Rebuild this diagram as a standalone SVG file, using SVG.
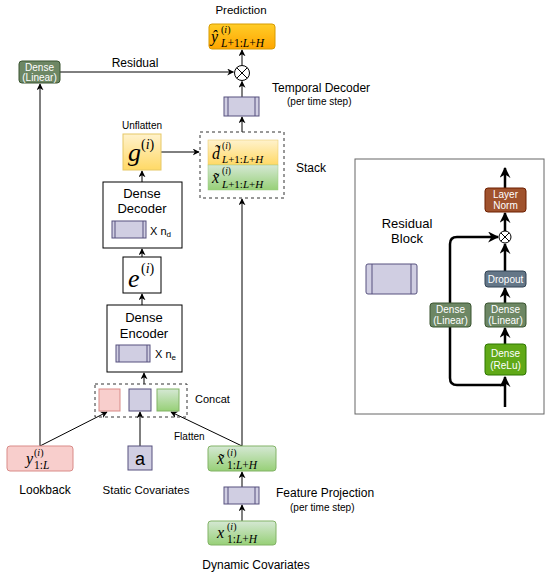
<svg xmlns="http://www.w3.org/2000/svg" width="550" height="577" viewBox="0 0 550 577">
<defs>
<linearGradient id="gOrange" x1="0" y1="0" x2="0" y2="1"><stop offset="0" stop-color="#ffcd28"/><stop offset="1" stop-color="#ffa500"/></linearGradient>
<linearGradient id="gYellow" x1="0" y1="0" x2="0" y2="1"><stop offset="0" stop-color="#fff2cc"/><stop offset="1" stop-color="#ffd966"/></linearGradient>
<linearGradient id="gGreen" x1="0" y1="0" x2="0" y2="1"><stop offset="0" stop-color="#d5e8d4"/><stop offset="1" stop-color="#97d077"/></linearGradient>
<marker id="arr" viewBox="0 0 10 10" refX="9" refY="5" markerWidth="7" markerHeight="7" markerUnits="userSpaceOnUse" orient="auto"><path d="M0,0 L10,5 L0,10 L3,5 Z" fill="#000"/></marker>
<marker id="arrB" viewBox="0 0 10 10" refX="9" refY="5" markerWidth="11" markerHeight="11" markerUnits="userSpaceOnUse" orient="auto"><path d="M0,0 L10,5 L0,10 L3,5 Z" fill="#000"/></marker>
</defs>
<style>
.lbl{font-family:"Liberation Sans",Arial,sans-serif;fill:#000}
.wt{font-family:"Liberation Sans",Arial,sans-serif;fill:#fff;font-size:10px;text-anchor:middle}
.m{font-family:"Liberation Serif","DejaVu Serif",serif;fill:#000}
.it{font-style:italic}
.blk{fill:#d0cee2;stroke:#56517e;stroke-width:1}
.ln{stroke:#56517e;stroke-width:1}
.box{fill:#fff;stroke:#000;stroke-width:1}
.c{stroke:#000;stroke-width:1;fill:none}
.cb{stroke:#000;stroke-width:2.5;fill:none}
.dash{fill:none;stroke:#333;stroke-width:1;stroke-dasharray:3,3}
.green{fill:url(#gGreen);stroke:#82b366}
.pink{fill:#f8cecc;stroke:#d98b88}
</style>
<rect width="550" height="577" fill="#fff"/>

<g id="connectors">
<path class="c" d="M242,65 L242,50" marker-end="url(#arr)"/>
<path class="c" d="M60,72 L233.5,72" marker-end="url(#arr)"/>
<path class="c" d="M242,97 L242,81.5" marker-end="url(#arr)"/>
<path class="c" d="M242,132 L242,117" marker-end="url(#arr)"/>
<path class="c" d="M161,152 L199,152" marker-end="url(#arr)"/>
<path class="c" d="M142,182 L142,171" marker-end="url(#arr)"/>
<path class="c" d="M142,257 L142,249" marker-end="url(#arr)"/>
<path class="c" d="M142,305 L142,294" marker-end="url(#arr)"/>
<path class="c" d="M144,384 L144,373" marker-end="url(#arr)"/>
<path class="c" d="M40,446 L40,84" marker-end="url(#arr)"/>
<path class="c" d="M40,446 L107,412" marker-end="url(#arr)"/>
<path class="c" d="M140,446 L140,412" marker-end="url(#arr)"/>
<path class="c" d="M242,446 L171,412" marker-end="url(#arr)"/>
<path class="c" d="M242,446 L242,199" marker-end="url(#arr)"/>
<path class="c" d="M242,487 L242,472" marker-end="url(#arr)"/>
<path class="c" d="M242,521 L242,505" marker-end="url(#arr)"/>
<path class="cb" d="M505,407 L505,377" marker-end="url(#arrB)"/>
<path class="cb" d="M505,344 L505,328" marker-end="url(#arrB)"/>
<path class="cb" d="M505,303 L505,288" marker-end="url(#arrB)"/>
<path class="cb" d="M505,271 L505,244" marker-end="url(#arrB)"/>
<path class="cb" d="M505,231 L505,213" marker-end="url(#arrB)"/>
<path class="cb" d="M505,188 L505,168" marker-end="url(#arrB)"/>
<path class="cb" d="M505,385 L457,385 Q450,385 450,378 L450,244 Q450,237 457,237 L498,237" marker-end="url(#arrB)"/>
</g>

<g id="prediction">
<text class="lbl" x="241" y="14" font-size="11.5" text-anchor="middle">Prediction</text>
<rect x="209" y="24" width="66" height="25" rx="3" fill="url(#gOrange)" stroke="#d79b00"/>
<text class="m it" x="211" y="42" font-size="16">ŷ</text>
<text class="m" x="221" y="33" font-size="10">(<tspan class="it">i</tspan>)</text>
<text class="m it" x="221" y="47" font-size="11.5">L<tspan font-style="normal">+1:</tspan>L<tspan font-style="normal">+</tspan>H</text>
</g>

<g id="residual-dense">
<rect x="19" y="61" width="41" height="22" rx="3" fill="#6d8764" stroke="#3a5431"/>
<text class="wt" x="39.5" y="70.5">Dense</text>
<text class="wt" x="39.5" y="81">(Linear)</text>
<text class="lbl" x="135" y="67" font-size="12" text-anchor="middle">Residual</text>
</g>

<g id="combine">
<circle cx="242" cy="73" r="7.5" fill="#fff" stroke="#000"/>
<path d="M236.7,67.7 L247.3,78.3 M247.3,67.7 L236.7,78.3" stroke="#000" stroke-width="1"/>
</g>

<g id="temporal-decoder">
<rect class="blk" x="224" y="97" width="35" height="19"/>
<path class="ln" d="M228,97 V116 M255,97 V116"/>
<text class="lbl" x="272" y="92" font-size="12">Temporal Decoder</text>
<text class="lbl" x="287" y="105" font-size="10">(per time step)</text>
</g>

<g id="stack">
<rect class="dash" x="200" y="132" width="84" height="66"/>
<rect x="208" y="140" width="70" height="25" fill="url(#gYellow)" stroke="#e6c866" stroke-width="0.5"/>
<rect x="208" y="165" width="70" height="25" fill="url(#gGreen)" stroke="#9ccc82" stroke-width="0.5"/>
<text class="m it" x="212" y="159" font-size="16">d̃</text>
<text class="m" x="222" y="149" font-size="9.5">(<tspan class="it">i</tspan>)</text>
<text class="m it" x="222" y="163" font-size="11">L<tspan font-style="normal">+1:</tspan>L<tspan font-style="normal">+</tspan>H</text>
<text class="m it" x="212" y="183" font-size="16">x̃</text>
<text class="m" x="222" y="174" font-size="9.5">(<tspan class="it">i</tspan>)</text>
<text class="m it" x="222" y="188" font-size="11">L<tspan font-style="normal">+1:</tspan>L<tspan font-style="normal">+</tspan>H</text>
<text class="lbl" x="296" y="172" font-size="12">Stack</text>
</g>

<g id="unflatten">
<text class="lbl" x="142" y="129" font-size="10" text-anchor="middle">Unflatten</text>
<rect x="123" y="134" width="38" height="36" fill="url(#gYellow)" stroke="#e6c866"/>
<text class="m it" x="128" y="161" font-size="26">g</text>
<text class="m" x="141" y="149" font-size="14">(<tspan class="it">i</tspan>)</text>
</g>

<g id="dense-decoder">
<rect class="box" x="103" y="182" width="79" height="66"/>
<text class="lbl" x="142" y="198" font-size="13" text-anchor="middle">Dense</text>
<text class="lbl" x="142" y="213" font-size="13" text-anchor="middle">Decoder</text>
<rect class="blk" x="112" y="221" width="34" height="17"/>
<path class="ln" d="M115,221 V238 M143,221 V238"/>
<text class="lbl" x="150" y="235" font-size="11">X n<tspan font-size="8" dy="2">d</tspan></text>
</g>

<g id="embedding">
<rect class="box" x="123" y="257" width="38" height="36"/>
<text class="m it" x="128" y="287" font-size="26">e</text>
<text class="m" x="141" y="273" font-size="14">(<tspan class="it">i</tspan>)</text>
</g>

<g id="dense-encoder">
<rect class="box" x="107" y="305" width="75" height="67"/>
<text class="lbl" x="144" y="322" font-size="13" text-anchor="middle">Dense</text>
<text class="lbl" x="144" y="338" font-size="13" text-anchor="middle">Encoder</text>
<rect class="blk" x="116" y="345" width="34" height="17"/>
<path class="ln" d="M119,345 V362 M147,345 V362"/>
<text class="lbl" x="155" y="358" font-size="11">X n<tspan font-size="8" dy="2">e</tspan></text>
</g>

<g id="concat">
<rect class="dash" x="95" y="384" width="92" height="33"/>
<rect class="pink" x="99" y="389" width="21" height="22"/>
<rect class="blk" x="129" y="389" width="22" height="22"/>
<rect class="green" x="157" y="389" width="22" height="22"/>
<text class="lbl" x="195" y="403" font-size="11">Concat</text>
<text class="lbl" x="174" y="440" font-size="10">Flatten</text>
</g>

<g id="lookback">
<rect class="pink" x="7" y="446" width="66" height="25" rx="3"/>
<text class="m it" x="26" y="464" font-size="16">y</text>
<text class="m" x="34" y="456" font-size="10">(<tspan class="it">i</tspan>)</text>
<text class="m" x="34" y="469" font-size="11.5">1:<tspan class="it">L</tspan></text>
<text class="lbl" x="45" y="494" font-size="12" text-anchor="middle">Lookback</text>
</g>

<g id="static">
<rect class="blk" x="128" y="446" width="24" height="24"/>
<text class="lbl" x="140" y="465" font-size="18" text-anchor="middle">a</text>
<text class="lbl" x="146" y="494" font-size="11.5" text-anchor="middle">Static Covariates</text>
</g>

<g id="projected-features">
<rect class="green" x="208" y="446" width="68" height="25" rx="3"/>
<text class="m it" x="217" y="464" font-size="16">x̃</text>
<text class="m" x="227" y="456" font-size="10">(<tspan class="it">i</tspan>)</text>
<text class="m" x="227" y="469" font-size="11.5">1:<tspan class="it">L</tspan>+<tspan class="it">H</tspan></text>
</g>

<g id="feature-projection">
<rect class="blk" x="224" y="487" width="35" height="17"/>
<path class="ln" d="M228,487 V504 M255,487 V504"/>
<text class="lbl" x="276" y="497" font-size="12">Feature Projection</text>
<text class="lbl" x="290" y="511" font-size="10">(per time step)</text>
</g>

<g id="dynamic">
<rect class="green" x="208" y="521" width="68" height="24" rx="3"/>
<text class="m it" x="217" y="538" font-size="16">x</text>
<text class="m" x="227" y="530" font-size="10">(<tspan class="it">i</tspan>)</text>
<text class="m" x="227" y="543" font-size="11.5">1:<tspan class="it">L</tspan>+<tspan class="it">H</tspan></text>
<text class="lbl" x="256" y="569" font-size="12" text-anchor="middle">Dynamic Covariates</text>
</g>

<g id="residual-block">
<rect x="355" y="159" width="189" height="255" fill="none" stroke="#666" stroke-width="1"/>
<text class="lbl" x="407" y="228" font-size="13" text-anchor="middle">Residual</text>
<text class="lbl" x="407" y="243" font-size="13" text-anchor="middle">Block</text>
<rect class="blk" x="366" y="264" width="51" height="30" rx="2"/>
<path class="ln" d="M372,264 V294 M411,264 V294"/>
</g>

<g id="layer-norm">
<rect x="485" y="188" width="41" height="24" rx="3" fill="#a0522d" stroke="#6d1f00"/>
<text class="wt" x="505.5" y="198">Layer</text>
<text class="wt" x="505.5" y="209">Norm</text>
</g>
<g id="rb-combine">
<circle cx="505" cy="237" r="6" fill="#fff" stroke="#000"/>
<path d="M500.8,232.8 L509.2,241.2 M509.2,232.8 L500.8,241.2" stroke="#000" stroke-width="1"/>
</g>
<g id="dropout">
<rect x="485" y="271" width="41" height="16" rx="3" fill="#647687" stroke="#314354"/>
<text class="wt" x="505.5" y="282.5">Dropout</text>
</g>
<g id="rb-dense-linear">
<rect x="485" y="303" width="41" height="24" rx="3" fill="#6d8764" stroke="#3a5431"/>
<text class="wt" x="505.5" y="313">Dense</text>
<text class="wt" x="505.5" y="324">(Linear)</text>
</g>
<g id="rb-dense-relu">
<rect x="485" y="344" width="41" height="31" rx="3" fill="#60a917" stroke="#2d7600"/>
<text class="wt" x="505.5" y="357">Dense</text>
<text class="wt" x="505.5" y="369">(ReLu)</text>
</g>
<g id="rb-skip-dense">
<rect x="430" y="303" width="41" height="24" rx="3" fill="#6d8764" stroke="#3a5431"/>
<text class="wt" x="450.5" y="313">Dense</text>
<text class="wt" x="450.5" y="324">(Linear)</text>
</g>
</svg>
